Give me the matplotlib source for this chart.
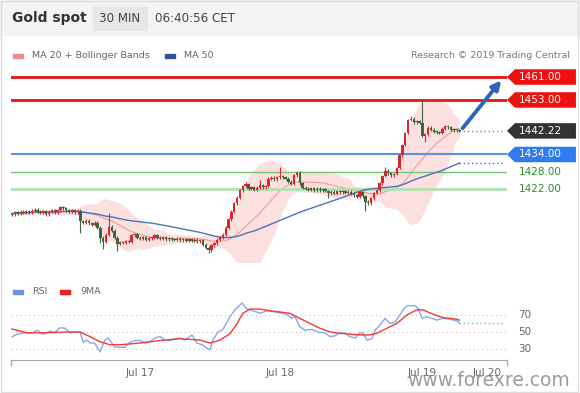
import numpy as np
import pandas as pd
import matplotlib
matplotlib.use('Agg')
import matplotlib.pyplot as plt
from matplotlib.patches import Rectangle, Polygon

# 30 分鐘收盤價
closes = [
    1413.2, 1413.8, 1413.5, 1414.0, 1413.6, 1414.2, 1413.9, 1414.4, 1414.8, 1414.1,
    1413.6, 1414.3, 1413.2, 1414.0, 1414.5, 1413.8, 1414.6, 1415.6, 1415.2, 1414.5,
    1414.0, 1414.6, 1413.9, 1414.4, 1410.8, 1410.2, 1411.0, 1410.0, 1409.5, 1410.3,
    1408.5, 1405.0, 1403.5, 1406.0, 1408.8, 1407.5, 1405.0, 1402.8, 1403.4, 1403.2,
    1403.8, 1403.5, 1405.8, 1406.2, 1405.0, 1404.6, 1405.2, 1404.3, 1404.8, 1405.0,
    1405.9, 1405.0, 1404.6, 1405.1, 1404.4, 1404.9, 1404.5, 1404.2, 1404.7, 1404.1,
    1404.5, 1404.0, 1404.4, 1403.9, 1404.3, 1403.8, 1404.2, 1402.6, 1401.5, 1400.6,
    1402.4, 1403.0, 1404.3, 1405.2, 1406.0, 1408.5, 1411.5, 1414.0, 1417.0, 1419.0,
    1421.5, 1423.0, 1423.6, 1422.0, 1422.6, 1421.8, 1422.4, 1423.3, 1422.6, 1423.0,
    1425.6, 1425.9, 1425.4, 1426.0, 1426.3, 1426.0, 1425.6, 1424.5, 1423.8, 1426.8,
    1427.6, 1424.0, 1422.4, 1422.0, 1421.8, 1422.2, 1421.6, 1422.0, 1421.5, 1421.9,
    1421.3, 1420.5, 1421.0, 1420.4, 1421.2, 1420.8, 1421.3, 1420.6, 1421.0, 1420.4,
    1419.8, 1419.3, 1420.8, 1419.4, 1417.6, 1417.0, 1418.8, 1420.6, 1421.6, 1424.0,
    1426.5, 1428.4, 1427.5, 1426.8, 1427.2, 1429.3, 1433.8, 1437.3, 1441.5, 1446.0,
    1446.5, 1445.3, 1445.5, 1445.0, 1440.5, 1441.0, 1443.3, 1442.6, 1442.0, 1441.8,
    1441.5, 1443.0, 1443.8, 1443.5, 1442.6, 1442.4, 1442.5, 1442.22,
]
first_open = 1413.6
# 明顯的上下影線
high_wicks = {34: 1413.6, 82: 1424.3, 87: 1425.1, 94: 1429.6, 100: 1428.2,
              131: 1429.8, 140: 1447.3, 144: 1453.0}
low_wicks = {24: 1406.5, 31: 1403.0, 32: 1401.0, 37: 1400.3, 69: 1399.7,
             111: 1418.8, 124: 1414.4, 145: 1438.5}

# 關鍵價位
resist_levels = [1461.00, 1453.00]
pivot_level = 1434.00
support_levels = [1428.00, 1422.00]
last_price = 1442.22

# RSI 與 9MA (candle index, value)
rsi_x = [0, 2, 4.5, 7, 9, 10.5, 12.3, 13.3, 15, 16.8, 18.6, 20.4, 22, 23.9, 25, 26.3,
         27.4, 29, 30.9, 32.6, 33.7, 35, 36, 37.9, 39.6, 41.4, 43.2, 44.9, 46.7, 48.4,
         50.2, 52, 53.7, 55.4, 57.2, 59, 60.7, 63.2, 64.9, 66.7, 68.4, 69.5, 70.5, 72.3,
         74, 76.5, 78.2, 80.7, 82.5, 84.6, 87, 89.5, 91.6, 95, 96.8, 98.2, 99.3, 101,
         102.8, 105.3, 107.4, 109.8, 111.6, 113.3, 115.1, 116.8, 118.6, 120.4, 122.1,
         123.2, 124.6, 126.3, 127.4, 129.1, 130.9, 132.6, 134.4, 136.1, 137.9, 139,
         141.4, 142.5, 143.9, 145.6, 147.4, 149.1, 151.2, 153.7, 156.1, 157]
rsi = [44.5, 47.5, 49, 49, 52, 47.6, 49, 51, 49, 55, 54.5, 49, 50, 50, 38, 40.5,
       37, 37, 26.5, 40.5, 43, 37, 32.5, 32, 32, 38, 40, 40, 37, 38.5,
       43, 44.5, 40.5, 40, 42, 43, 40.5, 46.5, 37, 35, 31, 29, 40.5, 50,
       53, 68, 76, 84, 77, 75, 72, 75, 74, 72, 70, 66, 68, 56,
       52, 53, 50, 49, 44.5, 45.5, 49, 48.5, 44.5, 43, 49,
       48.5, 40.5, 42, 52, 58, 66, 60, 61.5, 70, 79, 81,
       81, 78, 66, 68, 66, 64, 66, 65, 63, 60.5]
ma9_x = [0, 5.3, 9.8, 19.3, 23.9, 27.4, 30.9, 34.4, 37.9, 44.9, 52, 59, 66, 69.5, 73,
         76.5, 79, 81, 83.5, 87, 90.5, 94, 97.5, 101, 104.6, 108, 111.6, 115, 118.6,
         122, 125.6, 128, 131.6, 135, 138.6, 142, 144.2, 147.7, 151.2, 156, 157]
ma9 = [53.5, 49, 49, 50, 50, 44.5, 38.5, 35, 35, 37, 40, 42, 40.5, 37, 40.5,
       48, 60, 72, 77, 77, 75, 73.5, 72, 66, 60, 54.5, 50, 48.5, 47.5,
       46.5, 46.5, 48.5, 54.5, 60, 70, 76, 76, 71, 67, 65, 64]
rsi_levels = [70, 50, 30]

day_pos = [44.9, 94, 143.9, 166.7]
day_labels = ['Jul 17', 'Jul 18', 'Jul 19', 'Jul 20']

W, H = 580, 393
def fx(x):
    return x / W
def fy(y):
    return 1 - y / H

fig = plt.figure(figsize=(W / 100, H / 100), dpi=100)
fig.patch.set_facecolor('white')

# 標題列
fig.patches.append(Rectangle((0, fy(35)), 1, 35 / H, transform=fig.transFigure,
                             color='#f4f4f4', zorder=0))
fig.patches.append(Rectangle((fx(93), fy(30)), 54 / W, 23 / H, transform=fig.transFigure,
                             color='#e6e6e6', zorder=1))
fig.text(fx(12), fy(18), 'Gold spot', fontsize=10, fontweight='bold', color='#333333', va='center')
fig.text(fx(120), fy(18), '30 MIN', fontsize=8.6, color='#444444', va='center', ha='center')
fig.text(fx(155), fy(18), '06:40:56 CET', fontsize=8.6, color='#444444', va='center')

# 圖例
fig.patches.append(Rectangle((fx(13), fy(58)), 10 / W, 4 / H, transform=fig.transFigure, color='#f28a8a'))
fig.text(fx(32), fy(56), 'MA 20 + Bollinger Bands', fontsize=6.8, color='#666666', va='center')
fig.patches.append(Rectangle((fx(165), fy(58)), 10 / W, 4 / H, transform=fig.transFigure, color='#2f5597'))
fig.text(fx(184), fy(56), 'MA 50', fontsize=6.8, color='#666666', va='center')
fig.text(fx(570), fy(56), 'Research \u00a9 2019 Trading Central', fontsize=6.8, color='#777777',
         va='center', ha='right')

fig.patches.append(Rectangle((fx(13), fy(294)), 10 / W, 4 / H, transform=fig.transFigure, color='#6f94dc'))
fig.text(fx(32), fy(292), 'RSI', fontsize=6.8, color='#666666', va='center')
fig.patches.append(Rectangle((fx(60), fy(294)), 10 / W, 4 / H, transform=fig.transFigure, color='#ee1c1c'))
fig.text(fx(80), fy(292), '9MA', fontsize=6.8, color='#666666', va='center')

# 主圖
ax = fig.add_axes([fx(11), fy(262), 496 / W, 200 / H])
ax.set_xlim(-0.35, 173.7)
ax.set_ylim(1396.54, 1466.23)
ax.axis('off')

s = pd.Series(closes)
ma20 = s.rolling(20, min_periods=1).mean()
sd20 = s.rolling(20, min_periods=1).std(ddof=0)
ma50 = s.rolling(50, min_periods=1).mean()
idx = np.arange(len(closes))

ax.fill_between(idx, ma20 - 2 * sd20, ma20 + 2 * sd20, color='#fcd6d6', alpha=0.75, lw=0, zorder=1)
ax.plot(idx, ma20, color='#f29a9a', lw=0.8, zorder=2)

for y in resist_levels:
    ax.axhline(y, color='#e8141a', lw=2, zorder=3)
ax.axhline(pivot_level, color='#5e8fe0', lw=1.5, zorder=3)
ax.axhline(support_levels[0], color='#74c474', lw=1, zorder=3)
ax.axhline(support_levels[1], color='#b2e0b2', lw=2, zorder=3)

ax.plot(idx, ma50, color='#4a74b8', lw=1, zorder=4)
ax.plot([idx[-1], 172.5], [ma50.iloc[-1]] * 2, color='#4a74b8', lw=1, ls=(0, (1, 2)), zorder=4)
ax.plot([idx[-1], 172.5], [last_price] * 2, color='#888888', lw=1, ls=(0, (1, 2)), zorder=4)

# K 線
opens = [first_open] + closes[:-1]
for i, (o, c) in enumerate(zip(opens, closes)):
    col = '#d7262c' if c >= o else '#3d673a'
    hi = high_wicks.get(i, max(o, c) + 0.5)
    lo = low_wicks.get(i, min(o, c) - 0.5)
    ax.vlines(i, lo, hi, color=col, lw=0.8, zorder=5)
    ax.bar(i, max(abs(c - o), 0.35), bottom=min(o, c), width=0.85, color=col, lw=0, zorder=6)

ax.annotate('', xy=(172.3, 1460.6), xytext=(157.5, 1442.4),
            arrowprops=dict(arrowstyle='-|>', color='#2d67b6', lw=2.8, mutation_scale=13),
            zorder=7)

tr = ax.get_yaxis_transform()
def tag(y, txt, fc):
    h = 2.7
    verts = [(1.0, y), (1.016, y + h), (1.139, y + h), (1.139, y - h), (1.016, y - h)]
    ax.add_patch(Polygon(verts, closed=True, transform=tr, fc=fc, ec='none', clip_on=False))
    ax.text(1.067, y, txt, transform=tr, ha='center', va='center', color='white',
            fontsize=7.5, clip_on=False)

tag(resist_levels[0], '%.2f' % resist_levels[0], '#f01010')
tag(resist_levels[1], '%.2f' % resist_levels[1], '#f01010')
tag(last_price, '%.2f' % last_price, '#333333')
tag(pivot_level, '%.2f' % pivot_level, '#2f7cf0')
for y in support_levels:
    ax.text(1.067, y, '%.2f' % y, transform=tr, ha='center', va='center', color='#2e8b2e',
            fontsize=7.5, clip_on=False)

# RSI
rax = fig.add_axes([fx(11), fy(360), 496 / W, 65 / H])
rax.set_xlim(-0.35, 173.7)
rax.set_ylim(17.06, 93.5)
for sp in ['top', 'left', 'right']:
    rax.spines[sp].set_visible(False)
rax.spines['bottom'].set_color('#aaaaaa')
rax.set_yticks([])
for v in rsi_levels:
    rax.axhline(v, color='#e2b4b4', lw=0.8, ls=(0, (1, 3)))
    rax.text(1.036, v, str(v), transform=rax.get_yaxis_transform(), ha='center', va='center',
             fontsize=7.5, color='#666666', clip_on=False)
rax.plot(rsi_x, rsi, color='#86a8e8', lw=1)
rax.plot(ma9_x, ma9, color='#f03a3a', lw=1)
rax.plot([rsi_x[-1], 172.5], [rsi[-1]] * 2, color='#86a8e8', lw=1, ls=(0, (1, 2)))
for xe in [0, 1]:
    rax.plot([xe, xe], [0, -0.08], transform=rax.transAxes, color='#aaaaaa', lw=1, clip_on=False)
rax.set_xticks(day_pos)
rax.set_xticklabels(day_labels)
rax.tick_params(axis='x', length=0, pad=6, labelsize=7.5, labelcolor='#666666')

# 浮水印與外框 (原圖中浮水印即壓在日期上)
fig.text(fx(407), fy(380), 'www.forexre.com', fontsize=13.5, color='#7a7a7a', alpha=0.75, va='center')
fig.patches.append(Rectangle((0.002, 0.003), 0.994, 0.994, transform=fig.transFigure,
                             fill=False, ec='#dddddd', lw=1))

plt.savefig('out.png', dpi=100)
